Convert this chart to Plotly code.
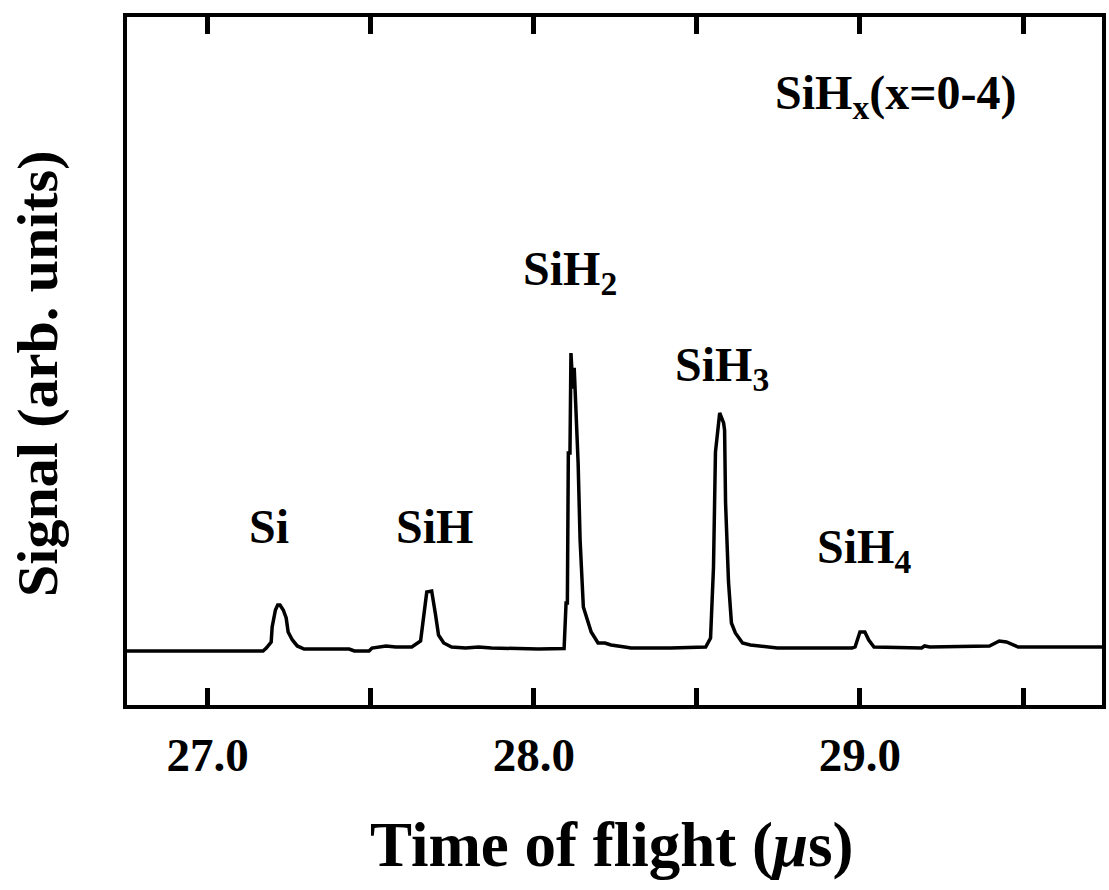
import plotly.graph_objects as go

# Time of flight (microseconds) and signal (arb. units)
time_us = [26.753, 27.170, 27.180, 27.195, 27.198, 27.208, 27.215, 27.222, 27.232, 27.241,
           27.247, 27.260, 27.275, 27.296, 27.434, 27.450, 27.495, 27.504, 27.547, 27.577,
           27.626, 27.653, 27.660, 27.666, 27.672, 27.687, 27.693, 27.699, 27.708, 27.724,
           27.748, 27.791, 27.831, 27.870, 28.014, 28.093, 28.099, 28.103, 28.106, 28.111,
           28.114, 28.120, 28.124, 28.130, 28.136, 28.142, 28.152, 28.176, 28.197, 28.218,
           28.237, 28.279, 28.298, 28.420, 28.527, 28.542, 28.551, 28.557, 28.570, 28.582,
           28.585, 28.588, 28.597, 28.606, 28.618, 28.640, 28.664, 28.747, 28.976, 28.985,
           29.000, 29.015, 29.027, 29.043, 29.189, 29.198, 29.214, 29.397, 29.427, 29.449,
           29.485, 29.742]
signal = [7.85, 7.85, 8.28, 9.16, 11.34, 13.81, 14.53, 14.53, 13.81, 12.65,
          10.61, 9.45, 8.58, 8.14, 8.14, 7.85, 7.85, 8.28, 8.58, 8.43,
          8.43, 9.30, 11.92, 14.24, 16.42, 16.57, 14.97, 13.08, 10.17, 9.01,
          8.43, 8.28, 8.43, 8.28, 8.14, 8.20, 14.83, 14.83, 36.63, 36.63,
          51.16, 46.00, 49.00, 42.88, 35.17, 23.98, 14.24, 10.61, 9.01, 9.01,
          8.72, 8.43, 8.28, 8.28, 8.43, 9.74, 20.06, 36.77, 42.44, 41.00,
          39.97, 29.36, 17.88, 11.92, 10.47, 9.01, 8.72, 8.28, 8.28, 8.43,
          10.61, 10.61, 9.45, 8.43, 8.28, 8.58, 8.43, 8.58, 9.30, 9.16,
          8.43, 8.43]

tick_vals = [27.0, 27.5, 28.0, 28.5, 29.0, 29.5]
tick_text = ["27.0", "", "28.0", "", "29.0", ""]

label_text = ["Si", "SiH", "SiH<sub>2</sub>", "SiH<sub>3</sub>", "SiH<sub>4</sub>", "SiH<sub>x</sub>(x=0-4)"]
label_x = [27.189, 27.696, 28.111, 28.576, 29.012, 29.110]
label_y = [25.9, 25.9, 63.0, 49.0, 22.5, 88.5]

FONT = "Liberation Serif, Times New Roman, serif"

fig = go.Figure()
fig.add_trace(go.Scatter(x=time_us, y=signal, mode="lines",
                         line=dict(color="black", width=3.5), showlegend=False,
                         hoverinfo="skip"))

for t, lx, ly in zip(label_text, label_x, label_y):
    fig.add_annotation(x=lx, y=ly, xref="x", yref="y", text=t, showarrow=False,
                       font=dict(family=FONT, size=48, color="black", weight="bold"))

fig.add_annotation(x=0.497, y=-0.2035, xref="paper", yref="paper",
                   xanchor="center", yanchor="middle",
                   text="Time of flight (<i>\u03bc</i>s)", showarrow=False,
                   font=dict(family=FONT, size=63, color="black", weight="bold"))
fig.add_annotation(x=-0.0925, y=0.481, xref="paper", yref="paper",
                   xanchor="center", yanchor="middle",
                   text="Signal (arb. units)", showarrow=False, textangle=-90,
                   font=dict(family=FONT, size=58, color="black", weight="bold"))

fig.update_layout(
    width=1109, height=890,
    margin=dict(l=127, r=3, t=17, b=185),
    paper_bgcolor="white", plot_bgcolor="white",
    xaxis=dict(range=[26.753, 29.742], tickvals=tick_vals, ticktext=tick_text,
               ticks="inside", ticklen=17, tickwidth=5, tickcolor="black",
               showline=True, linewidth=4, linecolor="black", mirror="ticks",
               showgrid=False, zeroline=False, ticklabelstandoff=6,
               tickfont=dict(family=FONT, size=47, color="black", weight="bold")),
    yaxis=dict(range=[0, 100], showticklabels=False, ticks="",
               showline=True, linewidth=4, linecolor="black", mirror=True,
               showgrid=False, zeroline=False),
)

fig.write_html("out.html")
